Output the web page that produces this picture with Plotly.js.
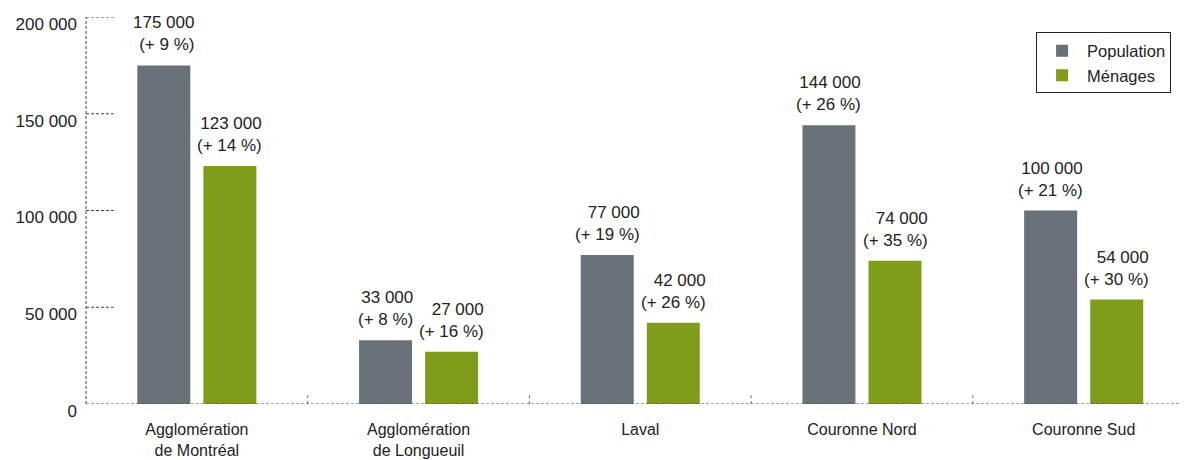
<!DOCTYPE html>
<html>
<head>
<meta charset="utf-8">
<script src="https://cdn.plot.ly/plotly-3.0.1.min.js"></script>
<style>html,body{margin:0;padding:0;background:#fff;}#chart{width:1185px;height:460px;}</style>
</head>
<body>
<div id="chart"></div>
<script>
const categories = ["Agglomération<br>de Montréal", "Agglomération<br>de Longueuil", "Laval", "Couronne Nord", "Couronne Sud"];
const population = [175000, 33000, 77000, 144000, 100000];
const menages = [123000, 27000, 42000, 74000, 54000];
const popChange = ["+ 9 %", "+ 8 %", "+ 19 %", "+ 26 %", "+ 21 %"];
const menChange = ["+ 14 %", "+ 16 %", "+ 26 %", "+ 35 %", "+ 30 %"];
const yTickVals = [0, 50000, 100000, 150000, 200000];
const yTickText = ["0", "50 000", "100 000", "150 000", "200 000"];

const GREY = "#6b7179";
const GREEN = "#819c1a";
const TXT = "#222222";
const FONT = "Liberation Sans, Arial, sans-serif";

const barW = 0.239;
const offPop = -0.2685;
const offMen = 0.0295;

function fmt(v) {
  return String(v).replace(/\B(?=(\d{3})+(?!\d))/g, " ");
}

const idx = categories.map((c, i) => i);

const traces = [
  {
    type: "bar", name: "Population", x: idx, y: population,
    width: barW, offset: offPop,
    marker: {color: GREY}, hoverinfo: "skip"
  },
  {
    type: "bar", name: "Ménages", x: idx, y: menages,
    width: barW, offset: offMen,
    marker: {color: GREEN}, hoverinfo: "skip"
  }
];

const annotations = [];
idx.forEach(i => {
  annotations.push({
    x: i + offPop + barW / 2, y: population[i], xref: "x", yref: "y",
    text: fmt(population[i]) + "<br>(" + popChange[i] + ")",
    showarrow: false, xanchor: "center", yanchor: "bottom", align: "right",
    yshift: 9, font: {family: FONT, size: 17, color: TXT}
  });
  annotations.push({
    x: i + offMen + barW / 2, y: menages[i], xref: "x", yref: "y",
    text: fmt(menages[i]) + "<br>(" + menChange[i] + ")",
    showarrow: false, xanchor: "center", yanchor: "bottom", align: "right",
    yshift: 9, font: {family: FONT, size: 17, color: TXT}
  });
});

const shapes = [];
shapes.push({type: "line", xref: "paper", yref: "y", x0: 0, x1: 0, y0: 0, y1: 200000,
  line: {color: "#444", width: 1, dash: "3px,2px"}});
shapes.push({type: "line", xref: "paper", yref: "y", x0: 0, x1: 0.995, y0: 0, y1: 0,
  line: {color: "#444", width: 1, dash: "3px,2px"}});
yTickVals.slice(1).forEach(v => {
  shapes.push({type: "line", xref: "x", yref: "y", x0: -0.5, x1: -0.375, y0: v, y1: v,
    line: {color: "#444", width: 1, dash: "3px,2px"}});
});
for (let k = 0; k < categories.length - 1; k++) {
  shapes.push({type: "line", xref: "x", yref: "y", x0: k + 0.5, x1: k + 0.5, y0: 0, y1: 4500,
    line: {color: "#666", width: 1, dash: "dot"}});
}

const layout = {
  width: 1185, height: 460,
  margin: {l: 86, r: 0, t: 17, b: 56},
  paper_bgcolor: "#fff", plot_bgcolor: "#fff",
  barmode: "overlay",
  font: {family: FONT, size: 16, color: TXT},
  xaxis: {
    range: [-0.5, 4.457],
    tickmode: "array", tickvals: idx, ticktext: categories,
    showgrid: false, zeroline: false, showline: false, ticks: "",
    ticklabelstandoff: 14,
    tickfont: {family: FONT, size: 16, color: TXT}
  },
  yaxis: {
    range: [0, 200000],
    tickmode: "array", tickvals: yTickVals, ticktext: yTickText,
    showgrid: false, zeroline: false, showline: false, ticks: "",
    ticklabelstandoff: 8, ticklabelshift: 7,
    tickfont: {family: FONT, size: 17, color: TXT}
  },
  showlegend: true,
  legend: {
    x: 0.8645, y: 0.96, xanchor: "left", yanchor: "top",
    bordercolor: "#222", borderwidth: 1, bgcolor: "#fff",
    font: {family: FONT, size: 16.5, color: TXT},
    itemwidth: 40, tracegroupgap: 0
  },
  annotations: annotations,
  shapes: shapes
};

Plotly.newPlot("chart", traces, layout, {displayModeBar: false, staticPlot: true});
</script>
</body>
</html>
